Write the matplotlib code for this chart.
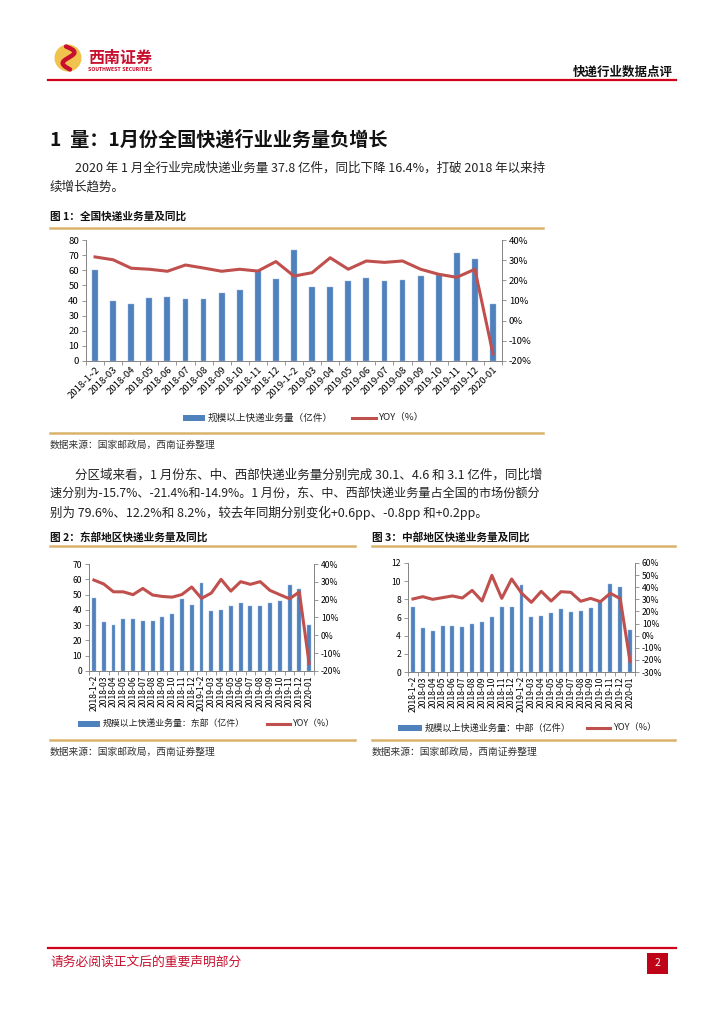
import matplotlib
matplotlib.use("Agg")
import matplotlib.pyplot as plt
from matplotlib.patches import Rectangle, Ellipse
from matplotlib.lines import Line2D
import numpy as np

plt.rcParams['font.family'] = ['Noto Sans CJK SC', 'DejaVu Sans']
plt.rcParams['axes.unicode_minus'] = False

# ---------------- data ----------------
months = ["2018-1~2", "2018-03", "2018-04", "2018-05", "2018-06", "2018-07", "2018-08",
          "2018-09", "2018-10", "2018-11", "2018-12", "2019-1~2", "2019-03", "2019-04",
          "2019-05", "2019-06", "2019-07", "2019-08", "2019-09", "2019-10", "2019-11",
          "2019-12", "2020-01"]

national_volume = [59.9, 39.7, 37.7, 41.9, 42.5, 41.2, 41.2, 45.0, 47.2, 59.5, 54.4, 73.2,
                   48.9, 49.1, 52.7, 54.7, 52.9, 53.3, 56.2, 57.0, 71.4, 67.7, 37.8]
national_yoy = [31.6, 30.2, 26.0, 25.5, 24.5, 27.6, 26.1, 24.5, 25.5, 24.6, 29.3, 22.1,
                23.8, 31.2, 25.5, 29.6, 28.9, 29.6, 25.5, 23.0, 21.5, 25.5, -16.4]

east_volume = [47.9, 31.9, 30.2, 33.9, 33.9, 33.0, 32.6, 35.4, 37.4, 47.0, 43.5, 57.8,
               39.2, 39.8, 42.4, 44.2, 42.2, 42.2, 44.6, 45.7, 56.4, 53.8, 30.1]
east_yoy = [31.0, 28.8, 24.4, 24.4, 22.8, 26.3, 22.6, 21.8, 21.4, 22.9, 27.1, 20.7,
            23.7, 31.4, 24.8, 30.1, 28.6, 30.1, 25.2, 22.8, 20.5, 24.3, -15.7]

central_volume = [7.16, 4.81, 4.55, 5.06, 5.09, 4.92, 5.25, 5.47, 6.09, 7.19, 7.16, 9.54,
                  6.09, 6.17, 6.46, 6.90, 6.64, 6.72, 7.05, 7.70, 9.69, 9.36, 4.62]
central_yoy = [30.3, 32.2, 30.0, 31.4, 32.8, 31.1, 37.4, 28.6, 49.8, 30.8, 46.8, 35.2,
               27.5, 36.6, 28.6, 36.3, 35.8, 28.4, 30.8, 28.1, 35.0, 30.6, -21.4]

# ---------------- page ----------------
W, H = 724, 1024
fig = plt.figure(figsize=(W / 100, H / 100), dpi=100)
fig.patch.set_facecolor('white')

RED = '#C8102E'
TAN = '#D9B36C'
BLUE = '#4F81BD'
LRED = '#C0504D'
BODY = 9.0


def fx(x):
    return x / W


def fy(y):
    return 1 - y / H


def hline(x0, x1, y, color, lw):
    fig.add_artist(Line2D([fx(x0), fx(x1)], [fy(y), fy(y)], color=color, lw=lw,
                          transform=fig.transFigure))


def txt(x, y, s, **kw):
    kw.setdefault('va', 'center')
    fig.text(fx(x), fy(y), s, **kw)


# header
fig.add_artist(Ellipse((fx(68), fy(58)), 27 / W, 27 / H, transform=fig.transFigure,
                       facecolor='#F0C24E', edgecolor='none'))
tt = np.linspace(0, 1, 60)
sx = 68 + 8 * np.sin(tt * 2 * np.pi) * (1 - 0.3 * tt) + (tt - 0.5) * 4
sy = 46.5 + tt * 23
fig.add_artist(Line2D(fx(sx), fy(sy), color='#C8102E', lw=3.2, transform=fig.transFigure,
                      solid_capstyle='round'))
txt(88, 58, "西南证券", fontsize=11.5, color=RED, fontweight='bold', ha='left')
txt(88, 69.5, "SOUTHWEST SECURITIES", fontsize=3.3, color=RED, fontweight='bold', ha='left',
    family=['DejaVu Sans'])
txt(673, 72, "快递行业数据点评", fontsize=9, color='#111111', fontweight='bold', ha='right')
hline(48, 676, 80, '#D0021B', 1.6)

# title and paragraphs
txt(50, 140, "1  量：1月份全国快递行业业务量负增长", fontsize=13.8, fontweight='bold',
    color='#111111', ha='left')
txt(75, 168, "2020 年 1 月全行业完成快递业务量 37.8 亿件，同比下降 16.4%，打破 2018 年以来持",
    fontsize=BODY, color='#222222', ha='left')
txt(50, 187, "续增长趋势。", fontsize=BODY, color='#222222', ha='left')

txt(50, 216, "图 1：全国快递业务量及同比", fontsize=7.7, fontweight='bold', color='#111111',
    ha='left')
hline(50, 543, 228, TAN, 1.8)
hline(50, 543, 433, TAN, 1.8)
txt(50, 445, "数据来源：国家邮政局，西南证券整理", fontsize=7.0, color='#333333', ha='left')

txt(75, 475, "分区域来看，1 月份东、中、西部快递业务量分别完成 30.1、4.6 和 3.1 亿件，同比增",
    fontsize=BODY, color='#222222', ha='left')
txt(50, 494, "速分别为-15.7%、-21.4%和-14.9%。1 月份，东、中、西部快递业务量占全国的市场份额分",
    fontsize=8.7, color='#222222', ha='left')
txt(50, 513, "别为 79.6%、12.2%和 8.2%，较去年同期分别变化+0.6pp、-0.8pp 和+0.2pp。",
    fontsize=BODY, color='#222222', ha='left')

txt(50, 537, "图 2：东部地区快递业务量及同比", fontsize=7.7, fontweight='bold', color='#111111',
    ha='left')
txt(372, 537, "图 3：中部地区快递业务量及同比", fontsize=7.7, fontweight='bold', color='#111111',
    ha='left')
hline(50, 355, 546, TAN, 1.8)
hline(372, 675, 546, TAN, 1.8)
hline(50, 355, 740, TAN, 1.8)
hline(372, 675, 740, TAN, 1.8)
txt(50, 752, "数据来源：国家邮政局，西南证券整理", fontsize=7.0, color='#333333', ha='left')
txt(372, 752, "数据来源：国家邮政局，西南证券整理", fontsize=7.0, color='#333333', ha='left')

# footer
hline(48, 676, 948, '#D0021B', 1.6)
txt(50, 962, "请务必阅读正文后的重要声明部分", fontsize=9.2, color=RED, ha='left')
fig.add_artist(Rectangle((fx(647), fy(974)), 21 / W, 21 / H, transform=fig.transFigure,
                         facecolor='#C00418', edgecolor='none'))
txt(657.5, 963.5, "2", fontsize=7.5, color='white', ha='center')


# ---------------- charts ----------------
def make_chart(l, t, r, b, vols, yoys, yl, yr, ystep_l, ystep_r, rot, fs, barw, leg_y,
               leg_items, legfs):
    ax = fig.add_axes([fx(l), fy(b), fx(r) - fx(l), fy(t) - fy(b)])
    x = np.arange(len(months))
    ax.bar(x, vols, width=barw, color=BLUE, edgecolor='#9DB9DD', linewidth=0.3, zorder=2)
    ax.set_xlim(-0.5, len(months) - 0.5)
    ax.set_ylim(*yl)
    lt = np.arange(yl[0], yl[1] + 0.001, ystep_l)
    ax.set_yticks(lt)
    ax.set_yticklabels([f"{int(v)}" for v in lt])
    ax.set_xticks(x)
    if rot == 45:
        ax.set_xticklabels(months, rotation=45, ha='right', rotation_mode='anchor',
                           fontsize=fs)
    else:
        ax.set_xticklabels(months, rotation=90, ha='center', fontsize=fs)
    ax.tick_params(axis='x', length=0, pad=3)
    ax.set_xticks(np.arange(-0.5, len(months), 1), minor=True)
    ax.tick_params(axis='x', which='minor', length=3, color='#868686', width=0.6)
    ax.tick_params(axis='y', labelsize=fs, length=3, color='#868686', width=0.6, pad=2)
    ax.spines['top'].set_visible(False)
    for s in ['left', 'right', 'bottom']:
        ax.spines[s].set_color('#868686')
        ax.spines[s].set_linewidth(0.7)

    ax2 = ax.twinx()
    ax2.plot(x, yoys, color=LRED, lw=2.2, zorder=3)
    ax2.set_ylim(*yr)
    rt = np.arange(yr[0], yr[1] + 0.001, ystep_r)
    ax2.set_yticks(rt)
    ax2.set_yticklabels([f"{int(v)}%" for v in rt])
    ax2.tick_params(axis='y', labelsize=fs, length=3, color='#868686', width=0.6, pad=2)
    ax2.spines['top'].set_visible(False)
    for s in ['left', 'right', 'bottom']:
        ax2.spines[s].set_color('#868686')
        ax2.spines[s].set_linewidth(0.7)

    # legend
    (bx0, bx1, lab1), (lx0, lx1, lab2) = leg_items
    fig.add_artist(Rectangle((fx(bx0), fy(leg_y + 3)), (bx1 - bx0) / W, 6 / H,
                             transform=fig.transFigure, facecolor=BLUE, edgecolor='none'))
    txt(bx1 + 3, leg_y, lab1, fontsize=legfs, color='#222222', ha='left')
    fig.add_artist(Line2D([fx(lx0), fx(lx1)], [fy(leg_y), fy(leg_y)], color=LRED, lw=2.2,
                          transform=fig.transFigure))
    txt(lx1 + 3, leg_y, lab2, fontsize=legfs, color='#222222', ha='left')
    return ax, ax2


make_chart(86, 240, 502, 361, national_volume, national_yoy, (0, 80), (-20, 40), 10, 10,
           45, 6.9, 0.32, 418,
           [(183, 205, "规模以上快递业务量（亿件）"), (352, 376, "YOY（%）")], 6.9)

make_chart(89, 564, 314, 671, east_volume, east_yoy, (0, 70), (-20, 40), 10, 10,
           90, 6.2, 0.4, 724,
           [(78, 100, "规模以上快递业务量：东部（亿件）"), (267, 290, "YOY（%）")], 6.4)

make_chart(408, 563, 635, 672, central_volume, central_yoy, (0, 12), (-30, 60), 2, 10,
           90, 6.2, 0.4, 728,
           [(398, 422, "规模以上快递业务量：中部（亿件）"), (587, 610, "YOY（%）")], 6.6)

fig.savefig("out.png", dpi=100, facecolor='white')
